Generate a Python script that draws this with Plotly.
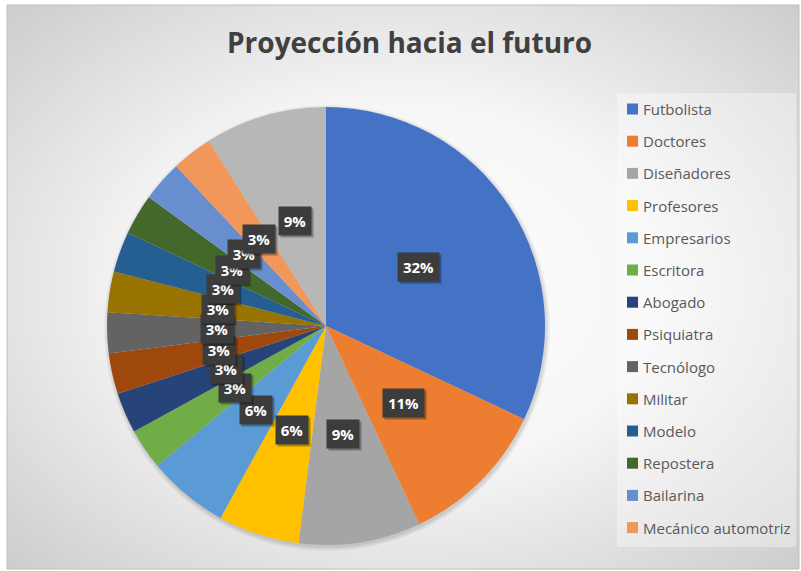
import math
import base64
import plotly.graph_objects as go

# ---------------- data ----------------
categories = ["Futbolista", "Doctores", "Diseñadores", "Profesores", "Empresarios",
              "Escritora", "Abogado", "Psiquiatra", "Tecnólogo", "Militar",
              "Modelo", "Repostera", "Bailarina", "Mecánico automotriz", "Otros"]
values = [32, 11, 9, 6, 6, 3, 3, 3, 3, 3, 3, 3, 3, 3, 9]
colors = ["#4472C4", "#ED7D31", "#A5A5A5", "#FFC000", "#5B9BD5", "#70AD47",
          "#264478", "#9E480E", "#636363", "#997300", "#255E91", "#43682B",
          "#698ED0", "#F1975A", "#B7B7B7"]
legend_count = 14  # the reference legend lists the first 14 categories
title = "Proyección hacia el futuro"

# ---------------- layout geometry (pixels) ----------------
W, H = 801, 571
cx, cy, R = 326, 326, 219


def px(x):
    return x / W


def py(y):
    return 1 - y / H


fig = go.Figure(go.Pie(
    labels=categories, values=values,
    marker=dict(colors=colors, line=dict(width=0)),
    sort=False, direction="clockwise", rotation=0,
    textinfo="none", hoverinfo="label+percent",
    domain=dict(x=[px(cx - R), px(cx + R)], y=[py(cy + R), py(cy - R)]),
    showlegend=False,
))

# ---------------- background (radial gradient) ----------------
svg = ('<svg xmlns="http://www.w3.org/2000/svg" width="792" height="564" viewBox="0 0 792 564" '
       'preserveAspectRatio="none"><defs><radialGradient id="g" cx="50%" cy="50%" r="72%">'
       '<stop offset="0" stop-color="#ffffff"/><stop offset="0.45" stop-color="#f6f6f6"/>'
       '<stop offset="1" stop-color="#cbcbcb"/></radialGradient></defs>'
       '<rect width="792" height="564" fill="url(#g)"/></svg>')
src = "data:image/svg+xml;base64," + base64.b64encode(svg.encode()).decode()

shapes = []
# chart border
shapes.append(dict(type="rect", xref="paper", yref="paper", x0=px(7), x1=px(799), y0=py(5), y1=py(569),
                   line=dict(color="#bfbfbf", width=1), fillcolor="rgba(0,0,0,0)", layer="below"))
# soft pie shadow
for extra, alpha in [(4, 0.04), (2.5, 0.05), (1, 0.06)]:
    shapes.append(dict(type="circle", xref="paper", yref="paper",
                       x0=px(cx - R - extra + 1), x1=px(cx + R + extra + 1),
                       y0=py(cy + R + extra + 2), y1=py(cy - R - extra + 2),
                       fillcolor=f"rgba(0,0,0,{alpha})", line=dict(width=0), layer="below"))
# legend box
shapes.append(dict(type="rect", xref="paper", yref="paper", x0=px(617), x1=px(796), y0=py(93), y1=py(547),
                   fillcolor="rgba(255,255,255,0.35)", line=dict(width=0), layer="below"))

annotations = []
# title
annotations.append(dict(x=px(409), y=py(42), xref="paper", yref="paper", text=title, showarrow=False,
                        font=dict(family="Open Sans", size=28, color="#404040", weight=700),
                        xanchor="center", yanchor="middle"))

# data labels, positioned at the middle angle of each slice
total = sum(values)
cum = 0.0
for v in values:
    theta = 2 * math.pi * (cum + v / 2) / total
    cum += v
    lx = cx + 0.5 * R * math.sin(theta)
    ly = cy - 0.5 * R * math.cos(theta)
    txt = f"{round(v / total * 100)}%"
    boxw = 31 if len(txt) > 2 else 22
    common = dict(x=px(lx), y=py(ly), xref="paper", yref="paper", showarrow=False,
                  xanchor="center", yanchor="middle", borderpad=5, width=boxw, height=18)
    # drop shadow box (no text)
    annotations.append(dict(common, text="&nbsp;", font=dict(size=15, color="rgba(0,0,0,0)"),
                            bgcolor="rgba(0,0,0,0.30)", xshift=2, yshift=-2))
    annotations.append(dict(common, text=txt,
                            font=dict(family="Open Sans", size=15, color="#ffffff", weight=700),
                            bgcolor="#3c3c3c"))

# legend (manual, to list only the first 14 categories as in the reference)
for i in range(legend_count):
    yc = 109 + i * 32.2
    shapes.append(dict(type="rect", xref="paper", yref="paper", x0=px(627), x1=px(638),
                       y0=py(yc + 5.5), y1=py(yc - 5.5), fillcolor=colors[i], line=dict(width=0)))
    annotations.append(dict(x=px(641), y=py(yc), xref="paper", yref="paper", text=categories[i],
                            showarrow=False, xanchor="left", yanchor="middle",
                            font=dict(family="Open Sans", size=15, color="#595959")))

fig.update_layout(
    width=W, height=H,
    margin=dict(l=0, r=0, t=0, b=0),
    paper_bgcolor="#ffffff",
    images=[dict(source=src, xref="paper", yref="paper", x=px(7), y=py(5), sizex=792 / W, sizey=564 / H,
                 xanchor="left", yanchor="top", sizing="stretch", layer="below")],
    shapes=shapes,
    annotations=annotations,
)

fig.write_html("out.html", config={"displayModeBar": False},
               post_script="document.body.style.margin='0';document.body.style.overflow='hidden';")
